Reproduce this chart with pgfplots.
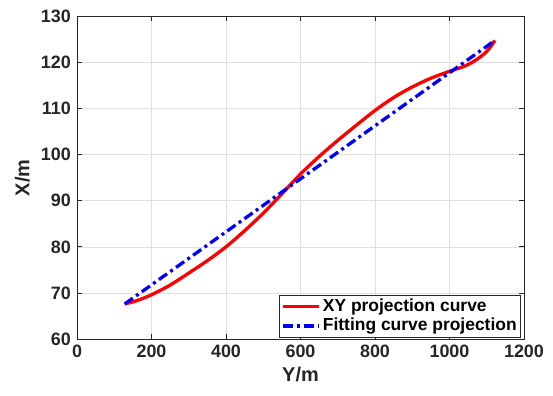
\documentclass[border=0pt]{standalone}
\usepackage{fontspec}
\setmainfont{Liberation Sans}
\usepackage{pgfplots}
\pgfplotsset{compat=1.18}
\definecolor{axgray}{RGB}{38,38,38}
\definecolor{gridgray}{RGB}{223,223,223}
\begin{document}
\fontsize{18}{21}\selectfont\bfseries
\begin{tikzpicture}
\begin{axis}[
  scale only axis,
  width=447bp, height=322.5bp,
  xmin=0, xmax=1200, ymin=60, ymax=130,
  xtick={0,200,...,1200}, ytick={60,70,...,130},
  /pgf/number format/assume math mode=true,
  /pgf/number format/1000 sep={},
  tick label style={font=\fontsize{18}{21}\selectfont\bfseries, color=axgray},
  label style={font=\fontsize{20}{24}\selectfont\bfseries, color=axgray},
  xlabel={Y/m}, ylabel={X/m},
  xlabel style={yshift=3bp},
  ylabel style={yshift=-1bp},
  axis line style={axgray, line width=0.7bp},
  tick style={axgray, line width=0.7bp},
  tick align=inside, major tick length=5bp,
  xtick pos=both, ytick pos=both,
  grid=major, grid style={gridgray, line width=0.6bp},
  legend style={at={(1,0)}, anchor=south east, xshift=-3bp, yshift=1bp,
    font=\fontsize{17.5}{20}\selectfont\bfseries, draw=axgray, line width=0.7bp,
    inner xsep=2bp, inner ysep=2bp, row sep=0bp},
  legend cell align=left,
  legend image code/.code={\draw[#1] (0bp,0bp) -- (36bp,0bp);},
]
\addplot[red, line width=3.3bp, smooth] coordinates {
(128,67.6) (160,68.3) (200,69.6) (250,71.7) (300,74.3) (350,77.0) (400,80.0)
(450,83.5) (500,87.3) (550,91.5) (600,95.8) (650,99.6) (700,103.1) (750,106.4)
(800,109.6) (850,112.4) (900,114.7) (950,116.6) (1000,118.1) (1040,119.2)
(1070,120.5) (1100,122.4) (1122,124.8)};
\addlegendentry{XY projection curve}
\addplot[blue, line width=3.3bp, dash pattern=on 10bp off 4bp on 3bp off 4bp] coordinates {
(128,67.6) (1122,124.8)};
\addlegendentry{Fitting curve projection}
\end{axis}
\pgfresetboundingbox
\path[use as bounding box] ([shift={(-77bp,-57bp)}]current axis.south west) rectangle ([shift={(29bp,16.5bp)}]current axis.north east);
\end{tikzpicture}
\end{document}
